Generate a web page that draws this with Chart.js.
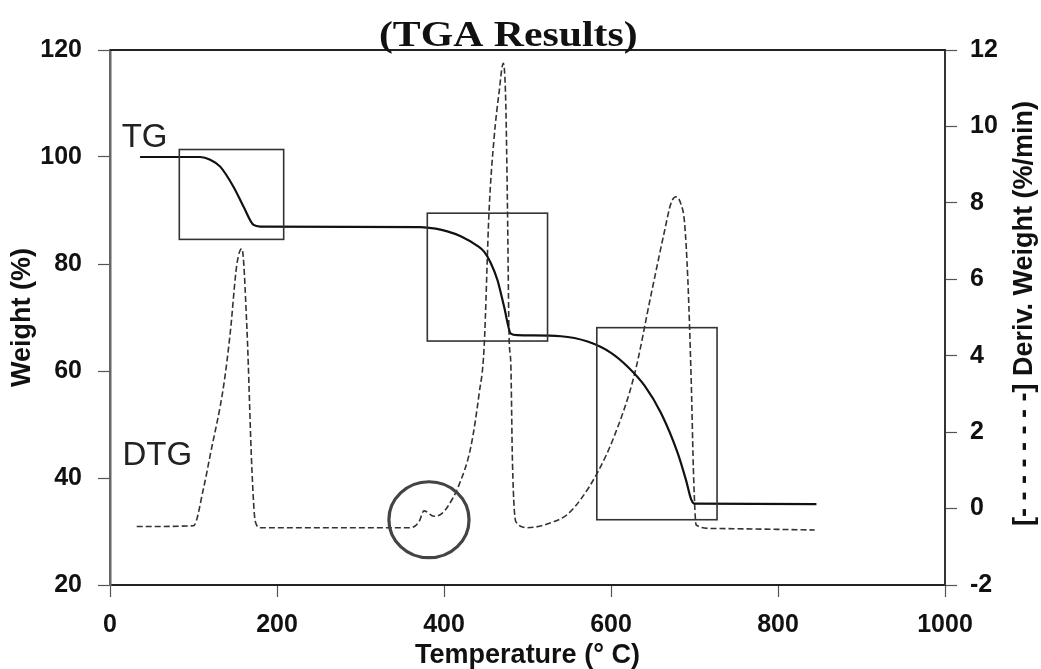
<!DOCTYPE html>
<html>
<head>
<meta charset="utf-8">
<script src="https://cdn.jsdelivr.net/npm/chart.js@4.4.1/dist/chart.umd.min.js"></script>
<style>
  html, body { margin: 0; padding: 0; background: #fff; }
  canvas { display: block; }
</style>
</head>
<body>
<canvas id="tgaChart" width="1041" height="669"></canvas>
<script>
// TG curve: temperature (°C) vs weight (%)
const tgTemp   = [36, 108, 120, 132, 148, 160, 172, 180, 372, 390, 404, 420, 440, 448, 456, 464, 472, 480, 488, 540, 572, 600, 620, 640, 660, 680, 690, 696, 700, 846];
const tgWeight = [100, 100, 99.5, 98.2, 94.4, 90.7, 87.3, 87.0, 86.9, 86.6, 86.1, 85.2, 83.4, 82.3, 80.2, 77.0, 72.0, 67.0, 66.7, 66.5, 65.5, 63.4, 60.8, 57.3, 52.1, 44.6, 39.5, 36.0, 35.2, 35.1];

// DTG curve: temperature (°C) vs derivative weight (%/min)
const dtgTemp = [32, 100, 112, 120, 136, 144, 152, 158, 164, 170, 174, 180, 360, 370, 376, 388, 398, 410, 418, 432, 442, 448, 454, 460, 466, 471, 474, 476, 478, 480, 482, 486, 500, 532, 548, 564, 584, 604, 628, 648, 664, 672, 678, 684, 688, 692, 696, 699, 702, 720, 844];
const dtgRate = [-0.47, -0.45, 0.53, 1.4, 3.2, 4.6, 6.4, 6.8, 4.7, 1.0, -0.34, -0.5, -0.5, -0.35, -0.06, -0.2, -0.12, 0.25, 0.62, 1.6, 3.0, 4.2, 7.8, 9.7, 10.9, 11.65, 10.6, 7.9, 4.45, 3.8, 1.2, -0.34, -0.5, -0.34, -0.15, 0.25, 0.95, 1.9, 3.5, 5.6, 7.25, 8.0, 8.16, 7.95, 7.5, 6.0, 3.4, 0.8, -0.43, -0.52, -0.56];

// axis ticks
const tempTicks   = [0, 200, 400, 600, 800, 1000];
const weightTicks = [20, 40, 60, 80, 100, 120];
const rateTicks   = [-2, 0, 2, 4, 6, 8, 10, 12];

// decomposition stages boxed on the TG axis: [tempFrom, tempTo, weightLow, weightHigh]
const stageBoxes = [
  [83, 208, 84.6, 101.4],
  [380, 524, 65.6, 89.5],
  [583, 727, 32.2, 68.1]
];
// small shoulder near 380 °C, circled: [temp, weight, tempRadius, weightRadius]
const shoulderMark = [382, 32.2, 48, 7.1];

const SANS = '"Liberation Sans", Arial, sans-serif';
const INK = '#111';

const toPoints = (xs, ys) => xs.map((x, i) => ({ x: x, y: ys[i] }));
const setTicks = list => scale => { scale.ticks = list.map(v => ({ value: v })); };
const plain = v => String(v);

const overlay = {
  id: 'overlay',
  afterDatasetsDraw(chart) {
    const { ctx, chartArea: a, scales: { x, y } } = chart;
    ctx.save();

    // frame top edge
    ctx.strokeStyle = '#222';
    ctx.lineWidth = 2;
    ctx.beginPath();
    ctx.moveTo(a.left, a.top);
    ctx.lineTo(a.right, a.top);
    ctx.stroke();

    // stage boxes
    ctx.strokeStyle = '#333';
    ctx.lineWidth = 1.6;
    stageBoxes.forEach(b => {
      const x0 = x.getPixelForValue(b[0]), x1 = x.getPixelForValue(b[1]);
      const y0 = y.getPixelForValue(b[3]), y1 = y.getPixelForValue(b[2]);
      ctx.strokeRect(x0, y0, x1 - x0, y1 - y0);
    });

    // circle around the shoulder
    const cx = x.getPixelForValue(shoulderMark[0]);
    const cy = y.getPixelForValue(shoulderMark[1]);
    const rx = x.getPixelForValue(shoulderMark[0] + shoulderMark[2]) - cx;
    const ry = cy - y.getPixelForValue(shoulderMark[1] + shoulderMark[3]);
    ctx.strokeStyle = '#444';
    ctx.lineWidth = 3.2;
    ctx.beginPath();
    ctx.ellipse(cx, cy, rx, ry, 0, 0, Math.PI * 2);
    ctx.stroke();

    // curve names
    ctx.fillStyle = '#222';
    ctx.font = '33px ' + SANS;
    ctx.textAlign = 'left';
    ctx.textBaseline = 'alphabetic';
    ctx.fillText('TG', x.getPixelForValue(14), y.getPixelForValue(101.9));
    ctx.fillText('DTG', x.getPixelForValue(15), y.getPixelForValue(42.4));
    ctx.restore();
  },
  afterDraw(chart) {
    const { ctx, chartArea: a } = chart;
    ctx.save();

    // heading
    ctx.fillStyle = INK;
    ctx.font = 'bold 36px "Liberation Serif", "Times New Roman", serif';
    ctx.textAlign = 'center';
    ctx.textBaseline = 'alphabetic';
    ctx.translate(a.left + (a.right - a.left) * 0.477, 46);
    ctx.scale(1.16, 1);
    ctx.fillText('(TGA Results)', 0, 0);
    ctx.restore();

    // right axis title, reading upward
    ctx.save();
    ctx.fillStyle = INK;
    ctx.font = 'bold 27px ' + SANS;
    ctx.textAlign = 'center';
    ctx.textBaseline = 'middle';
    ctx.translate(a.right + 80, (a.top + a.bottom) / 2 - 4);
    ctx.rotate(-Math.PI / 2);
    ctx.fillText('[- - - - - - - -] Deriv. Weight (%/min)', 0, 0);
    ctx.restore();
  }
};

new Chart(document.getElementById('tgaChart'), {
  type: 'line',
  data: {
    datasets: [{
      label: 'TG',
      data: toPoints(tgTemp, tgWeight),
      yAxisID: 'y',
      borderColor: '#111',
      borderWidth: 2.2,
      pointRadius: 0,
      cubicInterpolationMode: 'monotone'
    }, {
      label: 'DTG',
      data: toPoints(dtgTemp, dtgRate),
      yAxisID: 'y2',
      borderColor: '#333',
      borderWidth: 1.6,
      borderDash: [6, 3],
      pointRadius: 0,
      cubicInterpolationMode: 'monotone'
    }]
  },
  options: {
    responsive: false,
    animation: false,
    devicePixelRatio: 1,
    layout: { padding: { top: 50, left: 0, right: 0, bottom: 0 } },
    plugins: {
      legend: { display: false },
      tooltip: { enabled: false }
    },
    scales: {
      x: {
        type: 'linear',
        min: 0,
        max: 1000,
        afterBuildTicks: setTicks(tempTicks),
        afterFit: s => { s.height = 84; },
        ticks: { color: INK, font: { family: SANS, size: 25, weight: 'bold' }, padding: 13, maxRotation: 0, callback: plain },
        grid: { drawOnChartArea: false, drawTicks: true, tickLength: 12, tickColor: '#555', tickWidth: 1.2 },
        border: { display: true, color: '#222', width: 2 },
        title: {
          display: true,
          text: 'Temperature (° C)',
          color: INK,
          font: { family: SANS, size: 27, weight: 'bold', lineHeight: 1 },
          padding: 0
        }
      },
      y: {
        position: 'left',
        min: 20,
        max: 120,
        afterBuildTicks: setTicks(weightTicks),
        afterFit: s => { s.width = 110; },
        ticks: { color: INK, font: { family: SANS, size: 25, weight: 'bold' }, padding: 16, callback: plain },
        grid: { drawOnChartArea: false, drawTicks: true, tickLength: 12, tickColor: '#555', tickWidth: 1.2 },
        border: { display: true, color: '#666', width: 2.5 },
        title: {
          display: true,
          text: 'Weight (%)',
          color: INK,
          font: { family: SANS, size: 27, weight: 'bold', lineHeight: 1 },
          padding: { top: 9 }
        }
      },
      y2: {
        position: 'right',
        min: -2,
        max: 12,
        afterBuildTicks: setTicks(rateTicks),
        afterFit: s => { s.width = 96; },
        ticks: { color: INK, font: { family: SANS, size: 25, weight: 'bold' }, padding: 13, callback: plain },
        grid: { drawOnChartArea: false, drawTicks: true, tickLength: 12, tickColor: '#555', tickWidth: 1.2 },
        border: { display: true, color: '#333', width: 2 }
      }
    }
  },
  plugins: [overlay]
});
</script>
</body>
</html>
